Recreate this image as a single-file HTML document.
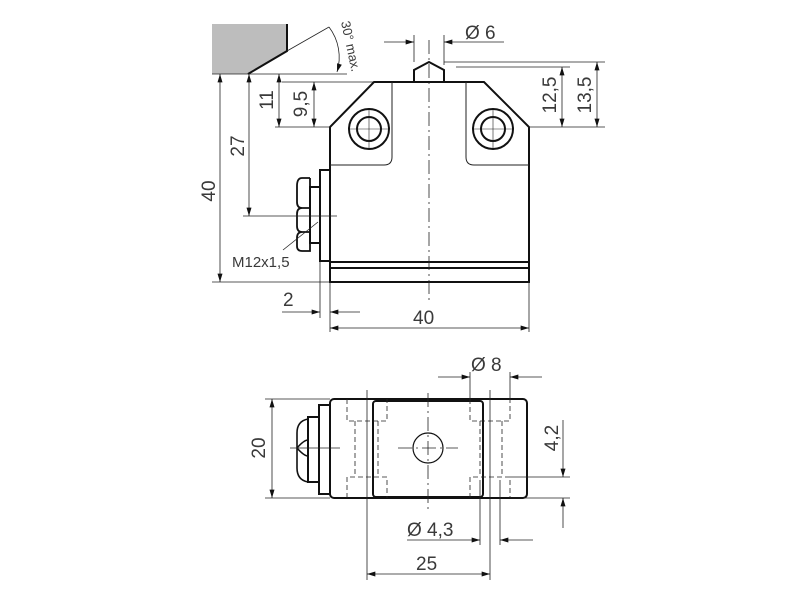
<!DOCTYPE html>
<html><head><style>html,body{margin:0;background:#fff}svg{display:block}</style></head><body>
<svg width="800" height="600" viewBox="0 0 800 600" xmlns="http://www.w3.org/2000/svg" font-family="Liberation Sans, sans-serif" fill="none">
<defs>
<marker id="a" viewBox="0 0 10 6" refX="10" refY="3" markerWidth="13" markerHeight="5" orient="auto" markerUnits="userSpaceOnUse"><path d="M0,0L10,3L0,6z" fill="#111"/></marker>
</defs>
<g stroke="#222" stroke-width="0.8">
<path d="M212,24H287V51L248,74H212Z" fill="#bdbdbd" stroke="none"/>
<path d="M287,24V51L248,74" stroke="#111" stroke-width="2"/>
<path d="M287,51L329,27"/>
<path d="M212,74H347M282,82H374"/>
<path d="M329,27A50,50 0 0 1 337,72" marker-end="url(#a)"/>
<g stroke="#111" stroke-width="2">
<path d="M374,82H484L529,127V282H330V127Z"/>
<path d="M330,262H529M330,268H529"/>
<circle cx="369" cy="129" r="20"/><circle cx="369" cy="129" r="12"/>
<circle cx="493" cy="129" r="20"/><circle cx="493" cy="129" r="12"/>
<path d="M414,82V70L429,62L444,70V82"/>
<path d="M320,170H330V261H320Z"/>
<path d="M310,187H320V243H310Z"/>
<path d="M310,178H302Q297,178 297,186V202Q297,208 302,208H310M302,208Q297,208 297,214V226Q297,232 302,232H310M302,232Q297,232 297,238V246Q297,251 302,251H310V178" stroke-width="1.8"/>
</g>
<path d="M392,82V157Q392,165 384,165H330M466,82V157Q466,165 474,165H529" stroke-width="1"/>
<path d="M429,40V300" stroke-dasharray="14,4,2,4"/>
<path d="M350,129H388M369,110V148M474,129H512M493,110V148" stroke-width="0.6"/>
<path d="M243,216H337"/>
<path d="M318,222L283,250"/>
<path d="M220,150V74" marker-end="url(#a)"/><path d="M220,150V282" marker-end="url(#a)"/>
<path d="M212,282H330"/>
<path d="M249,150V74" marker-end="url(#a)"/><path d="M249,150V216" marker-end="url(#a)"/>
<path d="M279,100V74" marker-end="url(#a)"/><path d="M279,100V127" marker-end="url(#a)"/>
<path d="M314,104V82" marker-end="url(#a)"/><path d="M314,104V127" marker-end="url(#a)"/>
<path d="M275,127H330M528,127H605"/>
<path d="M444,62H605M456,67H570"/>
<path d="M562,95V67" marker-end="url(#a)"/><path d="M562,95V127" marker-end="url(#a)"/>
<path d="M597,95V62" marker-end="url(#a)"/><path d="M597,95V127" marker-end="url(#a)"/>
<path d="M414,35V62M444,35V65"/>
<path d="M384,42H414" marker-end="url(#a)"/><path d="M504,42H444" marker-end="url(#a)"/>
<path d="M320,262V318M330,282V332M529,282V332"/>
<path d="M282,312H320" marker-end="url(#a)"/><path d="M360,312H330" marker-end="url(#a)"/>
<path d="M430,328H330" marker-end="url(#a)"/><path d="M430,328H529" marker-end="url(#a)"/>
<g stroke="#111" stroke-width="2">
<rect x="330" y="399" width="197" height="99" rx="4"/>
<rect x="373" y="401" width="110" height="96" rx="3"/>
<path d="M319,405H330V494H319Z"/>
<path d="M308,417H319V482H308Z"/>
<path d="M308,419Q297,421 297,433V468Q297,480 308,482M297,448Q304,440 308,440M297,448Q304,456 308,456" stroke-width="1.6"/>
</g>
<g stroke-dasharray="5,3">
<path d="M347,399V421H387V399M355,421V477M378,421V477M347,498V477H387V498"/>
<path d="M470,399V421H510V399M480,421V477M502,421V477M470,498V477H510V498"/>
</g>
<circle cx="428" cy="448" r="15" stroke="#111" stroke-width="1.2"/>
<path d="M398,448H458M428,393V510" stroke-dasharray="14,4,2,4"/>
<path d="M290,448H340"/>
<path d="M367,390V580M490,390V580"/>
<path d="M265,399H330M265,498H330"/>
<path d="M272,448V399" marker-end="url(#a)"/><path d="M272,448V498" marker-end="url(#a)"/>
<path d="M470,372V400M510,372V400"/>
<path d="M438,377H470" marker-end="url(#a)"/><path d="M542,377H510" marker-end="url(#a)"/>
<path d="M510,477H570M510,498H570"/>
<path d="M563,420V477" marker-end="url(#a)"/><path d="M563,528V498" marker-end="url(#a)"/>
<path d="M480,480V545M500,480V545"/>
<path d="M407,540H480" marker-end="url(#a)"/><path d="M533,540H500" marker-end="url(#a)"/>
<path d="M428,574H367" marker-end="url(#a)"/><path d="M428,574H490" marker-end="url(#a)"/>
</g>
<g fill="#3a3a3a" font-size="19">
<text x="465" y="39">Ø 6</text>
<text x="283" y="306">2</text>
<text x="413" y="324">40</text>
<text x="232" y="267" font-size="15">M12x1,5</text>
<text transform="translate(215,191) rotate(-90)" text-anchor="middle">40</text>
<text transform="translate(244,146) rotate(-90)" text-anchor="middle">27</text>
<text transform="translate(273,100) rotate(-90)" text-anchor="middle">11</text>
<text transform="translate(307,104) rotate(-90)" text-anchor="middle">9,5</text>
<text transform="translate(556,95) rotate(-90)" text-anchor="middle">12,5</text>
<text transform="translate(591,95) rotate(-90)" text-anchor="middle">13,5</text>
<text transform="translate(341,22) rotate(78)" font-size="13">30° max.</text>
<text x="471" y="371">Ø 8</text>
<text transform="translate(265,448) rotate(-90)" text-anchor="middle">20</text>
<text transform="translate(558,438) rotate(-90)" text-anchor="middle">4,2</text>
<text x="407" y="536">Ø 4,3</text>
<text x="416" y="570">25</text>
</g>
</svg>
</body></html>
